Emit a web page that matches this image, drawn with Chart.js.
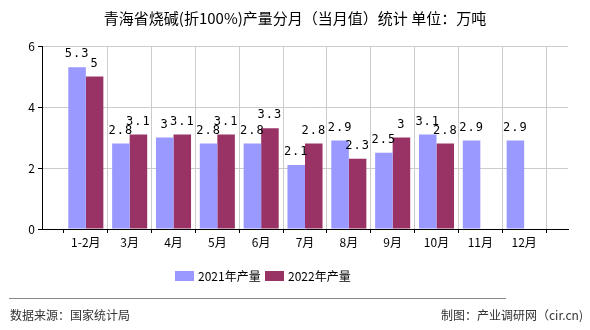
<!DOCTYPE html>
<html>
<head>
<meta charset="utf-8">
<script src="https://cdn.jsdelivr.net/npm/chart.js@4"></script>
<style>
  html, body { margin: 0; padding: 0; background: #fff; }
  #wrap { width: 590px; height: 330px; position: relative; }
</style>
</head>
<body>
<div id="wrap"><canvas id="c" width="590" height="330"></canvas></div>
<script>
// 분류 / 값
const months = ['', '1-2月', '3月', '4月', '5月', '6月', '7月', '8月', '9月', '10月', '11月', '12月', ''];
const output2021 = [null, 5.3, 2.8, 3, 2.8, 2.8, 2.1, 2.9, 2.5, 3.1, 2.9, 2.9, null];
const output2022 = [null, 5, 3.1, 3.1, 3.1, 3.3, 2.8, 2.3, 3, 2.8, null, null, null];
const yTicks = [0, 2, 4, 6];

const FONT = '"Noto Sans CJK SC", "DejaVu Sans", sans-serif';

// 제목, 범례, 하단 문구, 값 라벨
const decor = {
    id: 'decor',
    afterDatasetsDraw(chart) {
        const ctx = chart.ctx;
        ctx.save();
        ctx.fillStyle = '#000';
        ctx.textBaseline = 'bottom';
        ctx.textAlign = 'center';
        ctx.font = '12px "DejaVu Sans Mono", monospace';
        if ('letterSpacing' in ctx) ctx.letterSpacing = '1px';
        chart.data.datasets.forEach((ds, i) => {
            chart.getDatasetMeta(i).data.forEach((bar, j) => {
                const v = ds.data[j];
                if (v == null) return;
                ctx.fillText(String(v), bar.x, bar.y - 7);
            });
        });
        ctx.restore();
    },
    afterDraw(chart) {
        const ctx = chart.ctx;
        ctx.save();
        ctx.fillStyle = '#000';
        ctx.textBaseline = 'middle';
        ctx.textAlign = 'center';
        ctx.font = '15px ' + FONT;
        ctx.fillText('青海省烧碱(折100%)产量分月（当月值）统计 单位：万吨', 295, 18);

        // 범례
        ctx.font = '12px ' + FONT;
        ctx.textAlign = 'left';
        ctx.fillStyle = '#9999FF';
        ctx.fillRect(175, 271, 19, 10);
        ctx.fillStyle = '#000';
        ctx.fillText('2021年产量', 198, 276);
        ctx.fillStyle = '#993366';
        ctx.fillRect(265, 271, 19, 10);
        ctx.fillStyle = '#000';
        ctx.fillText('2022年产量', 288, 276);

        // 하단
        ctx.strokeStyle = '#888';
        ctx.lineWidth = 1;
        ctx.beginPath();
        ctx.moveTo(9, 298.5);
        ctx.lineTo(506, 298.5);
        ctx.stroke();
        ctx.fillStyle = '#333';
        ctx.font = '12px ' + FONT;
        ctx.fillText('数据来源：国家统计局', 10, 315);
        ctx.textAlign = 'right';
        ctx.fillText('制图：产业调研网（cir.cn)', 583, 315);
        ctx.restore();
    }
};

new Chart(document.getElementById('c').getContext('2d'), {
    type: 'bar',
    data: {
        labels: months,
        datasets: [{
            label: '2021年产量',
            data: output2021,
            backgroundColor: '#9999FF',
            borderWidth: 0,
            categoryPercentage: 0.8,
            barPercentage: 1.0
        }, {
            label: '2022年产量',
            data: output2022,
            backgroundColor: '#993366',
            borderWidth: 0,
            categoryPercentage: 0.8,
            barPercentage: 1.0
        }]
    },
    options: {
        responsive: false,
        animation: false,
        layout: {padding: {left: 0, right: 22, top: 46, bottom: 78}},
        plugins: {
            legend: {display: false},
            title: {display: false},
            tooltip: {enabled: false}
        },
        scales: {
            x: {
                offset: false,
                grid: {
                    color: (c) => (c.index === 0 || c.index === 1) ? 'rgba(0,0,0,0)' : '#cccccc',
                    drawTicks: true,
                    tickLength: 4,
                    tickColor: '#000'
                },
                border: {color: '#000', width: 1},
                ticks: {color: '#000', font: {size: 12, family: FONT}, autoSkip: false, maxRotation: 0, padding: 2},
                afterFit(scale) { scale.height = 23; }
            },
            y: {
                min: 0,
                max: 6,
                afterBuildTicks(scale) { scale.ticks = yTicks.map(v => ({value: v})); },
                grid: {color: '#cccccc', tickLength: 4, tickColor: '#000'},
                border: {color: '#000', width: 1},
                ticks: {color: '#000', font: {size: 12, family: FONT}, padding: 3},
                afterFit(scale) { scale.width = 42; }
            }
        }
    },
    plugins: [decor]
});
</script>
</body>
</html>
